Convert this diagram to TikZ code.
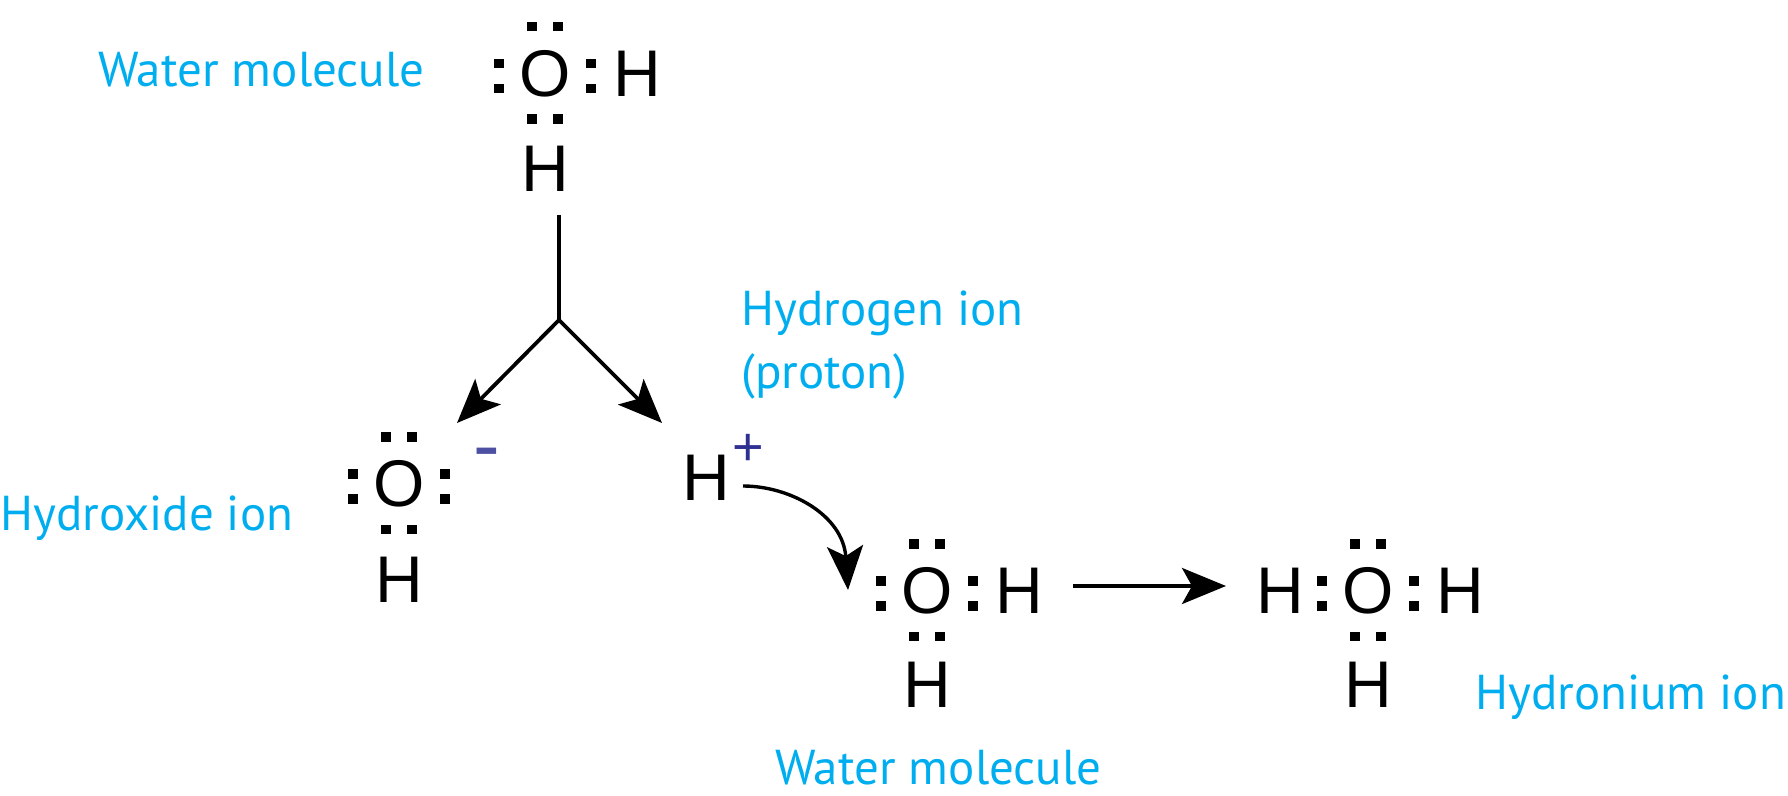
\documentclass[tikz,border=0pt]{standalone}
\usepackage{fontspec}
\usepackage{xcolor}
\setmainfont{Liberation Sans}
\newfontfamily\captionfont{PT Sans}
\usetikzlibrary{arrows.meta,positioning}
\definecolor{caption-blue}{HTML}{00AEEF}
\definecolor{charge-blue}{HTML}{2E3192}
\newcommand{\lonepairs}[1]{%
  \foreach \dx/\dy [count=\i] in {-6.5/-23.5, 6.5/-23.5, -6.5/22.7, 6.5/22.7,
    -23/-5, -23/7.5, 23/-5, 23/7.5}
  {\node [electron] (#1-e\i) at ([shift={(\dx pt,-\dy pt)}]#1) {};}}

\begin{document}
\begin{tikzpicture}
      [x=0.5pt, y=-0.5pt, node distance=46pt, on grid,
      atom/.style = {font=\fontsize{33}{33}\selectfont, inner sep=0pt},
      electron/.style = {fill=black, inner sep=0pt, minimum size=4.7pt},
      species/.style = {font=\captionfont\fontsize{24.5}{31.5}\selectfont,
        text=caption-blue, inner sep=0pt, align=left},
      post/.style={-{Stealth[length=22pt, width=18pt, inset=5pt]},
        line width=1.9pt}]

      \useasboundingbox (0,0) rectangle (1788,796);

      % water molecule, top
      \node [atom] (O1) at (545,73.5) {O};
      \node [atom, right=of O1] (H1r) {H};
      \node [atom, below=47.5pt of O1] (H1b) {H};
      \lonepairs{O1}
      \node [species, anchor=base west] (water1) at (98,87) {Water molecule};

      % splitting into the two ions
      \coordinate (forktop) at (559,215);
      \coordinate (fork) at (559,320);
      \coordinate (tipleft) at (457,423);
      \coordinate (tipright) at (662,423);
      \draw [line width=1.9pt] (forktop) -- (fork);
      \draw [post] (fork) -- (tipleft);
      \draw [post] (fork) -- (tipright);

      % hydroxide
      \node [atom] (O2) at (399,484) {O};
      \node [atom, below=48pt of O2] (H2b) {H};
      \lonepairs{O2}
      \node [atom, text=charge-blue!85, font=\fontsize{40}{40}\selectfont] (minus) at (487,460) {-};
      \node [species, anchor=base west] (hydroxide) at (0,530) {Hydroxide ion};

      % proton
      \node [atom] (Hp) at (706,478) {H};
      \node [atom, text=charge-blue, font=\fontsize{27}{27}\selectfont] (plus) at (748,450) {+};
      \node [species, anchor=north west] (proton) at (741,290) {Hydrogen ion\\(proton)};

      % water molecule, bottom
      \node [atom] (O3) at (927,591) {O};
      \node [atom, right=of O3] (H3r) {H};
      \node [atom, below=47pt of O3] (H3b) {H};
      \lonepairs{O3}
      \node [species, anchor=base west] (water2) at (775,784) {Water molecule};

      % hydronium
      \node [atom] (O4) at (1368,591) {O};
      \node [atom, left=44pt of O4] (H4l) {H};
      \node [atom, right=of O4] (H4r) {H};
      \node [atom, below=47pt of O4] (H4b) {H};
      \lonepairs{O4}
      \node [species, anchor=base west] (hydronium) at (1475,709) {Hydronium ion};

      \coordinate (curvestart) at (743,486);
      \coordinate (curvetip) at (848,590);
      \draw [post, line width=1.7pt] (curvestart) .. controls (790,486) and (843,515) .. (curvetip);

      \coordinate (reactstart) at (1073,586);
      \coordinate (reacttip) at (1226,586);
      \draw [post] (reactstart) -- (reacttip);
    \end{tikzpicture}
\end{document}
